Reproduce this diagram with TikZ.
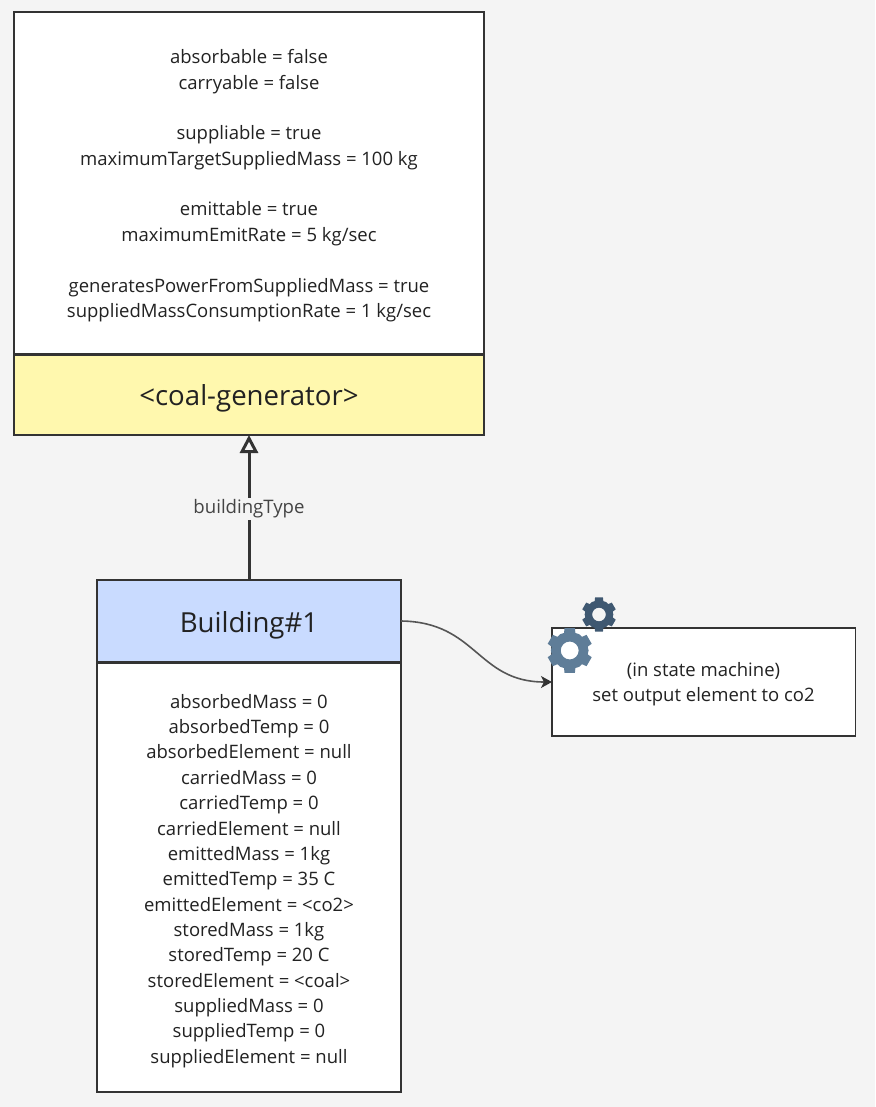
\documentclass[tikz,border=0pt]{standalone}
\usepackage{fontspec}
\setmainfont{Open Sans}
\usetikzlibrary{arrows.meta,calc}
\definecolor{bgc}{HTML}{F4F4F4}
\definecolor{linec}{HTML}{333333}
\definecolor{yellowc}{HTML}{FFF8AE}
\definecolor{bluec}{HTML}{C9DBFF}
\definecolor{geara}{HTML}{5F7D98}
\definecolor{gearb}{HTML}{3F5871}
\definecolor{textc}{HTML}{222222}
\definecolor{labelc}{HTML}{444444}
\definecolor{flowc}{HTML}{555555}
\newcommand{\gearshape}[4]{% x, y, radius, colour
  \begin{scope}[shift={(#1,#2)}]
  \fill[#4,even odd rule] (12:#3*0.8)
    \foreach \a in {30,90,...,330} {
      -- (\a-18:#3*0.8) -- (\a-13:#3) -- (\a+13:#3) -- (\a+18:#3*0.8) -- (\a+30:#3*0.82)
    } -- cycle
    (0,0) circle[radius=#3*0.39];
  \end{scope}
}
\tikzset{
  x=1pt,y=-1pt,
  boxn/.style={draw=linec,line width=1.4pt,inner sep=0pt,outer sep=0pt,fill=white},
  divider/.style={draw=linec,line width=3pt},
  bodytext/.style={align=center,text=textc,font=\fontsize{18.5}{25.35}\selectfont,inner sep=0pt},
  headtext/.style={text=textc,font=\fontsize{27.6}{32}\selectfont,inner sep=0pt},
  linktext/.style={text=labelc,font=\fontsize{18.6}{22}\selectfont,fill=bgc,inner sep=2pt},
  typeedge/.style={draw=linec,line width=3pt,-{Triangle[open,length=18pt,width=18pt,line width=3pt]}},
  flowedge/.style={draw=flowc,line width=1.6pt,-{Stealth[length=11pt,width=12pt,inset=3pt,fill=linec,color=linec]}},
}
\begin{document}
\begin{tikzpicture}
\useasboundingbox (0,0) rectangle (875,1107);
\fill[bgc] (0,0) rectangle (875,1107);
% coal generator
\node[boxn,minimum width=470pt,minimum height=342pt] (coalbody) at (249,183) {};
\node[boxn,fill=yellowc,minimum width=470pt,minimum height=81pt] (coalhead) at (249,394.5) {};
\draw[divider] (coalhead.north west) -- (coalhead.north east);
\node[headtext] (coaltitle) at (249,398.5) {<coal-generator>};
\node[bodytext,anchor=north] (coaltext) at (249,49.5) {absorbable = false\\carryable = false\\\mbox{}\\suppliable = true\\maximumTargetSuppliedMass = 100 kg\\\mbox{}\\emittable = true\\maximumEmitRate = 5 kg/sec\\\mbox{}\\generatesPowerFromSuppliedMass = true\\suppliedMassConsumptionRate = 1 kg/sec};
% building
\node[boxn,minimum width=304pt,minimum height=430pt] (bldbody) at (249,877) {};
\node[boxn,fill=bluec,minimum width=304pt,minimum height=82pt] (bldhead) at (249,621) {};
\draw[divider] (bldhead.south west) -- (bldhead.south east);
\node[headtext] (bldtitle) at (249,625.5) {Building\#1};
\node[bodytext,anchor=north] (bldtext) at (249,694) {absorbedMass = 0\\absorbedTemp = 0\\absorbedElement = null\\carriedMass = 0\\carriedTemp = 0\\carriedElement = null\\emittedMass = 1kg\\emittedTemp = 35 C\\emittedElement = <co2>\\storedMass = 1kg\\storedTemp = 20 C\\storedElement = <coal>\\suppliedMass = 0\\suppliedTemp = 0\\suppliedElement = null};
% action
\node[boxn,minimum width=303.5pt,minimum height=108pt] (action) at (703.7,682) {};
\node[bodytext] (actiontext) at (703.5,684.5) {(in state machine)\\set output element to co2};
\gearshape{599}{614.5}{17.5}{gearb}
\gearshape{569.7}{650.5}{23}{geara}
% connectors
\draw[typeedge] (bldhead.north) -- node[linktext,pos=0.49] (typelabel) {buildingType} (coalhead.south);
\coordinate (flowstart) at (bldhead.east);
\coordinate (flowend) at (action.west);
\draw[flowedge] (flowstart) .. controls (477,622) and (477,682) .. (flowend);
\end{tikzpicture}
\end{document}
